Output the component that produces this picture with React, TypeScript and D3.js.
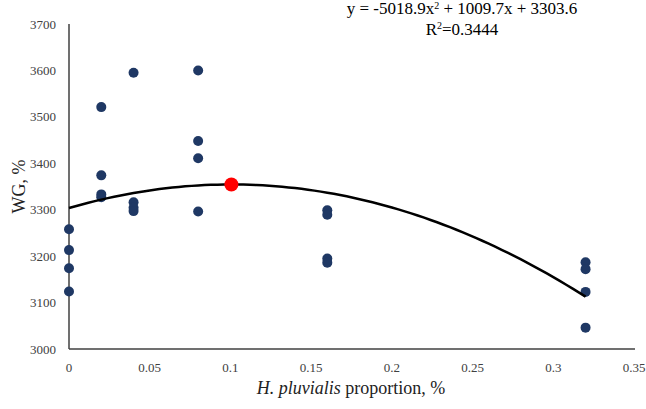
import * as d3 from 'd3';
import { useEffect, useRef } from 'react';

// proportion of H. pluvialis in the diet and weight gain readings
const proportions = [0, 0.02, 0.04, 0.08, 0.16, 0.32];
const wgValues = [
  [3258, 3213, 3174, 3124],
  [3521, 3374, 3333, 3327],
  [3595, 3316, 3304, 3297],
  [3600, 3448, 3411, 3296],
  [3299, 3289, 3195, 3186],
  [3187, 3172, 3123, 3046],
];
const fitCoef = { a: -5018.9, b: 1009.7, c: 3303.6 };
const optimum = { x: 0.1006, y: 3354.4 };
const xTicks = [0, 0.05, 0.1, 0.15, 0.2, 0.25, 0.3, 0.35];
const yTicks = [3000, 3100, 3200, 3300, 3400, 3500, 3600, 3700];

const width = 646;
const height = 409;
const margin = { left: 69, right: 12, top: 24, bottom: 60 };

export default function App() {
  const svgRef = useRef<SVGSVGElement | null>(null);

  useEffect(() => {
    const svg = d3.select(svgRef.current);
    svg.selectAll('*').remove();

    const x = d3.scaleLinear().domain([0, 0.35]).range([margin.left, width - margin.right]);
    const y = d3.scaleLinear().domain([3000, 3700]).range([height - margin.bottom, margin.top]);

    const font = '"Liberation Serif", "Times New Roman", serif';

    // axes: plain lines, no tick marks
    svg
      .append('line')
      .attr('x1', x(0))
      .attr('x2', x(0))
      .attr('y1', y(3700))
      .attr('y2', y(3000))
      .attr('stroke', '#404040')
      .attr('stroke-width', 1.5);
    svg
      .append('line')
      .attr('x1', x(0))
      .attr('x2', x(0.35) + 1)
      .attr('y1', y(3000))
      .attr('y2', y(3000))
      .attr('stroke', '#404040')
      .attr('stroke-width', 1.5);

    svg
      .append('g')
      .selectAll('text')
      .data(yTicks)
      .enter()
      .append('text')
      .attr('x', x(0) - 13)
      .attr('y', (d) => y(d))
      .attr('dy', '0.35em')
      .attr('text-anchor', 'end')
      .style('font-family', font)
      .style('font-size', '13px')
      .style('fill', '#404040')
      .text((d) => d);

    svg
      .append('g')
      .selectAll('text')
      .data(xTicks)
      .enter()
      .append('text')
      .attr('x', (d) => x(d))
      .attr('y', y(3000) + 23)
      .attr('text-anchor', 'middle')
      .style('font-family', font)
      .style('font-size', '13px')
      .style('fill', '#404040')
      .text((d) => d);

    // axis titles
    svg
      .append('text')
      .attr('transform', `translate(25,${(y(3000) + y(3700)) / 2}) rotate(-90)`)
      .attr('text-anchor', 'middle')
      .style('font-family', font)
      .style('font-size', '18px')
      .style('fill', '#222')
      .text('WG, %');

    const xTitle = svg
      .append('text')
      .attr('x', 351)
      .attr('y', 394)
      .attr('text-anchor', 'middle')
      .style('font-family', font)
      .style('font-size', '18px')
      .style('fill', '#222');
    xTitle.append('tspan').style('font-style', 'italic').text('H. pluvialis');
    xTitle.append('tspan').text(' proportion, %');

    // points
    const points = proportions.flatMap((p, i) => wgValues[i].map((v) => ({ p, v })));
    svg
      .append('g')
      .selectAll('circle')
      .data(points)
      .enter()
      .append('circle')
      .attr('cx', (d) => x(d.p))
      .attr('cy', (d) => y(d.v))
      .attr('r', 5)
      .style('fill', '#1f3864');

    // quadratic trend line
    const fit = (t: number) => fitCoef.a * t * t + fitCoef.b * t + fitCoef.c;
    const curveX = d3.range(0, 0.3201, 0.004);
    const line = d3
      .line<number>()
      .x((d) => x(d))
      .y((d) => y(fit(d)));
    svg
      .append('path')
      .datum(curveX)
      .attr('d', line)
      .attr('fill', 'none')
      .attr('stroke', '#000')
      .attr('stroke-width', 2.5);

    svg
      .append('circle')
      .attr('cx', x(optimum.x))
      .attr('cy', y(optimum.y))
      .attr('r', 7)
      .style('fill', '#ff0000');

    // equation label
    const eq = svg
      .append('text')
      .attr('x', 462)
      .attr('y', 14)
      .attr('text-anchor', 'middle')
      .style('font-family', font)
      .style('font-size', '17px')
      .style('fill', '#000');
    eq.append('tspan').text('y = -5018.9x');
    eq.append('tspan').attr('dy', -5).style('font-size', '10px').text('2');
    eq.append('tspan').attr('dy', 5).text(' + 1009.7x + 3303.6');

    const r2 = svg
      .append('text')
      .attr('x', 462)
      .attr('y', 35)
      .attr('text-anchor', 'middle')
      .style('font-family', font)
      .style('font-size', '17px')
      .style('fill', '#000');
    r2.append('tspan').text('R');
    r2.append('tspan').attr('dy', -6).style('font-size', '10px').text('2');
    r2.append('tspan').attr('dy', 6).text('=0.3444');
  }, []);

  return (
    <div style={{ position: 'absolute', left: 0, top: 0 }}>
      <svg ref={svgRef} width={width} height={height} style={{ display: 'block', background: '#fff' }} />
    </div>
  );
}
